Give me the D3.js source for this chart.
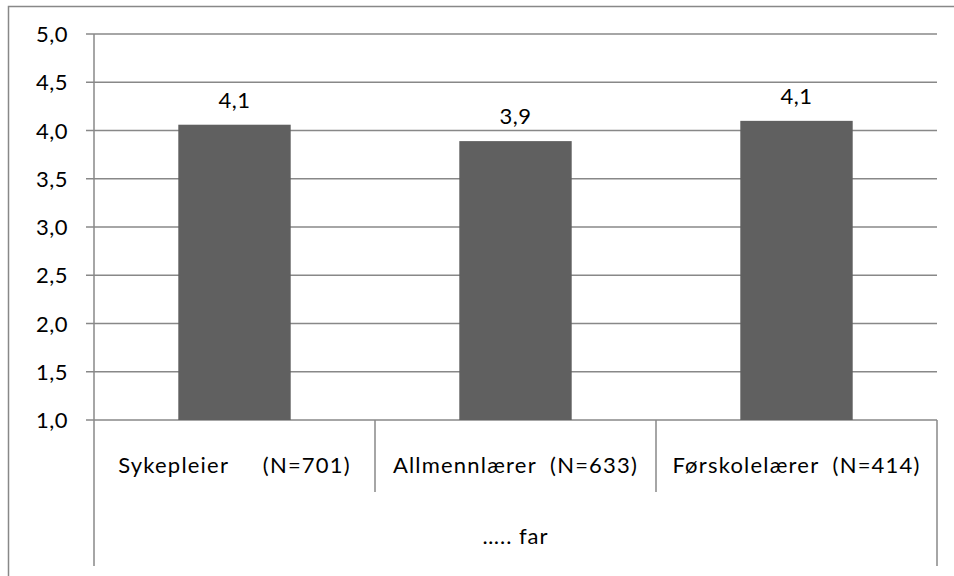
<!DOCTYPE html>
<html>
<head>
<meta charset="utf-8">
<script src="https://cdn.jsdelivr.net/npm/d3@7"></script>
<style>
  html, body { margin: 0; padding: 0; background: #fff; }
  svg { display: block; }
  text { font-family: Lato, "Open Sans", sans-serif; fill: #000; }
</style>
</head>
<body>
<svg id="chart" width="954" height="576"></svg>
<script>
const categories = ["Sykepleier     (N=701)", "Allmennlærer  (N=633)", "Førskolelærer  (N=414)"];
const values = [4.06, 3.89, 4.10];
const valueLabels = ["4,1", "3,9", "4,1"];
const yTicks = [1.0, 1.5, 2.0, 2.5, 3.0, 3.5, 4.0, 4.5, 5.0];
const groupLabel = "….. far";

(function () {
const svg = d3.select("#chart");
const lineColor = "#888888";
const barColor = "#606060";
const fontSize = 22;

const pLeft = 94, pRight = 937, pTop = 34, pBottom = 420;

// outer border (right/bottom clipped off the picture)
svg.append("rect")
  .attr("x", 8.5).attr("y", 6.5)
  .attr("width", 960).attr("height", 600)
  .attr("fill", "none").attr("stroke", lineColor).attr("stroke-width", 1.5);

const y = d3.scaleLinear().domain([1, 5]).range([pBottom, pTop]);
const x = d3.scaleBand().domain(categories).range([pLeft, pRight]).padding(0);
const barW = x.bandwidth() * 0.4;

// gridlines with tick stubs
svg.append("g").selectAll("line").data(yTicks).join("line")
  .attr("x1", pLeft - 8).attr("x2", pRight)
  .attr("y1", d => y(d)).attr("y2", d => y(d))
  .attr("stroke", lineColor).attr("stroke-width", 1.5);

// tick labels
const fmt = d => d3.format(".1f")(d).replace(".", ",");
svg.append("g").selectAll("text").data(yTicks).join("text")
  .attr("x", 68).attr("y", d => y(d) + 8)
  .attr("text-anchor", "end")
  .style("font-size", fontSize + "px")
  .style("letter-spacing", "0.5px")
  .text(fmt);

// bars
svg.append("g").selectAll("rect").data(values).join("rect")
  .attr("x", (d, i) => x(categories[i]) + (x.bandwidth() - barW) / 2)
  .attr("width", barW)
  .attr("y", d => y(d))
  .attr("height", d => y(1) - y(d))
  .attr("fill", barColor);

// value labels
svg.append("g").selectAll("text").data(values).join("text")
  .attr("x", (d, i) => x(categories[i]) + x.bandwidth() / 2)
  .attr("y", d => y(d) - 17)
  .attr("text-anchor", "middle")
  .style("font-size", fontSize + "px")
  .style("letter-spacing", "0.5px")
  .text((d, i) => valueLabels[i]);

// y axis line & right outer line
svg.append("line").attr("x1", pLeft).attr("x2", pLeft).attr("y1", pTop).attr("y2", 566)
  .attr("stroke", lineColor).attr("stroke-width", 1.5);
svg.append("line").attr("x1", pRight).attr("x2", pRight).attr("y1", pBottom).attr("y2", 566)
  .attr("stroke", lineColor).attr("stroke-width", 1.5);

// category separators
svg.append("g").selectAll("line").data(categories.slice(1)).join("line")
  .attr("x1", d => x(d)).attr("x2", d => x(d))
  .attr("y1", pBottom).attr("y2", 492)
  .attr("stroke", lineColor).attr("stroke-width", 1.5);

// category labels
svg.append("g").selectAll("text").data(categories).join("text")
  .attr("x", d => x(d) + x.bandwidth() / 2)
  .attr("y", 473)
  .attr("text-anchor", "middle")
  .style("font-size", fontSize + "px")
  .style("letter-spacing", "1.2px")
  .style("white-space", "pre")
  .attr("xml:space", "preserve")
  .text(d => d);

// group label
svg.append("text")
  .attr("x", (pLeft + pRight) / 2).attr("y", 544)
  .attr("text-anchor", "middle")
  .style("font-size", fontSize + "px")
  .style("letter-spacing", "1px")
  .text(groupLabel);
})();
</script>
</body>
</html>
